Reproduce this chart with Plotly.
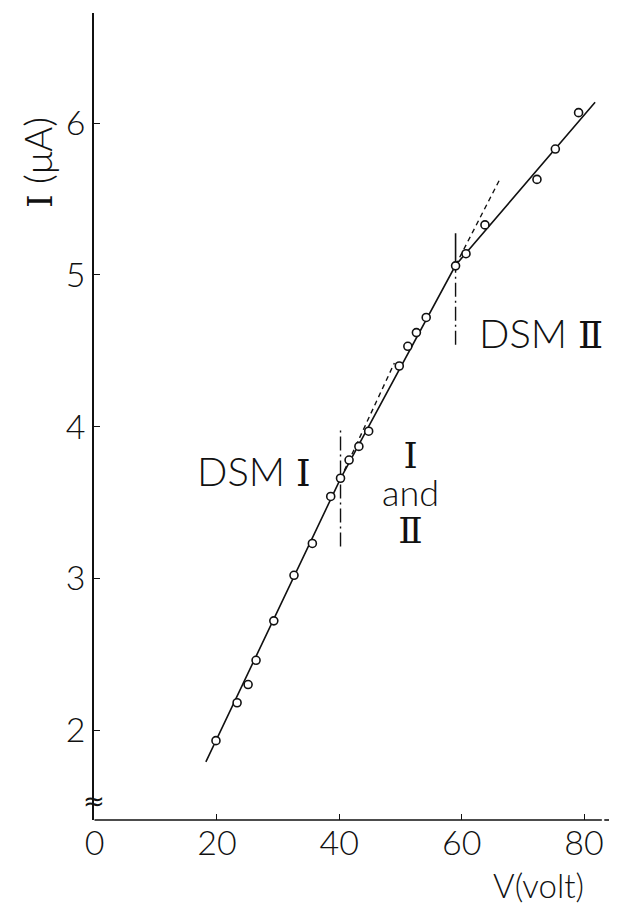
import plotly.graph_objects as go

# Measured points
V = [19.85, 23.3, 25.1, 26.4, 29.3, 32.6, 35.6, 38.6, 40.2, 41.6, 43.2, 44.8,
     49.8, 51.2, 52.6, 54.2, 59.0, 60.7, 63.8, 72.3, 75.3, 79.1]
I = [1.93, 2.18, 2.30, 2.46, 2.72, 3.02, 3.23, 3.54, 3.66, 3.78, 3.87, 3.97,
     4.40, 4.53, 4.62, 4.72, 5.06, 5.14, 5.33, 5.63, 5.83, 6.07]

# Fitted solid line (three straight segments)
fit_V = [18.2, 40.2, 59.0, 81.8]
fit_I = [1.79, 3.657, 5.064, 6.138]

# Dashed extrapolations
ext1_V = [40.2, 49.0]
ext1_I = [3.657, 4.42]
ext2_V = [59.0, 66.4]
ext2_I = [5.064, 5.644]

# Transition markers (vertical dash-dot lines)
trans1_V = [40.2, 40.2]
trans1_I = [3.21, 3.98]
trans2_low_V = [59.0, 59.0]
trans2_low_I = [4.54, 5.064]
trans2_up_V = [59.0, 59.0]
trans2_up_I = [5.064, 5.275]

x_ticks = [0, 20, 40, 60, 80]
y_ticks = [2, 3, 4, 5, 6]

FONT = "Lato, 'Noto Sans', 'DejaVu Sans', sans-serif"
ROMAN = "font-family:DejaVu Serif"
BLACK = "#111111"

fig = go.Figure()

fig.add_trace(go.Scatter(x=fit_V, y=fit_I, mode="lines",
                         line=dict(color=BLACK, width=1.6), hoverinfo="skip"))
fig.add_trace(go.Scatter(x=ext1_V, y=ext1_I, mode="lines",
                         line=dict(color=BLACK, width=1.4, dash="5px,4px"), hoverinfo="skip"))
fig.add_trace(go.Scatter(x=ext2_V, y=ext2_I, mode="lines",
                         line=dict(color=BLACK, width=1.4, dash="5px,4px"), hoverinfo="skip"))
fig.add_trace(go.Scatter(x=trans1_V, y=trans1_I, mode="lines",
                         line=dict(color=BLACK, width=1.4, dash="14px,4px,2px,4px"), hoverinfo="skip"))
fig.add_trace(go.Scatter(x=trans2_low_V, y=trans2_low_I, mode="lines",
                         line=dict(color=BLACK, width=1.4, dash="14px,4px,2px,4px"), hoverinfo="skip"))
fig.add_trace(go.Scatter(x=trans2_up_V, y=trans2_up_I, mode="lines",
                         line=dict(color=BLACK, width=1.6), hoverinfo="skip"))
fig.add_trace(go.Scatter(x=V, y=I, mode="markers",
                         marker=dict(symbol="circle", size=8, color="white",
                                     line=dict(color=BLACK, width=1.6))))

# x axis line drawn as shapes: solid, then short dashed tail
fig.add_shape(type="line", xref="x", yref="paper", x0=0, x1=82.9, y0=0, y1=0,
              line=dict(color=BLACK, width=1.6))
fig.add_shape(type="line", xref="x", yref="paper", x0=83.3, x1=84.5, y0=0, y1=0,
              line=dict(color=BLACK, width=1.6))

tf = dict(family=FONT, color=BLACK, weight=300)
ann = []
ann.append(dict(x=26.1, y=3.71, xref="x", yref="y", xanchor="center", yanchor="middle",
                text=f"DSM <span style='{ROMAN};font-size:37px'>Ⅰ</span>", showarrow=False,
                font=dict(size=40, **tf)))
ann.append(dict(x=73.0, y=4.62, xref="x", yref="y", xanchor="center", yanchor="middle",
                text=f"DSM <span style='{ROMAN};font-size:37px'>Ⅱ</span>", showarrow=False,
                font=dict(size=40, **tf)))
ann.append(dict(x=51.7, y=3.56, xref="x", yref="y", xanchor="center", yanchor="middle",
                text=(f"<span style='{ROMAN};font-size:36px'>Ⅰ</span><br>"
                      f"<span style='font-size:36px'>and</span><br>"
                      f"<span style='{ROMAN};font-size:36px'>Ⅱ</span>"),
                showarrow=False, font=dict(size=29, **tf)))
ann.append(dict(x=-0.1106, y=5.745, xref="paper", yref="y", xanchor="center", yanchor="middle",
                text=f"<span style='{ROMAN};font-size:34px'>I</span> (μA)", showarrow=False,
                textangle=-90, font=dict(size=38, **tf)))
ann.append(dict(x=72.6, y=-0.0805, xref="x", yref="paper", xanchor="center", yanchor="middle",
                text="V(volt)", showarrow=False, font=dict(size=33, **tf)))
ann.append(dict(x=0, y=1.53, xref="x", yref="y", xanchor="center", yanchor="middle",
                text="≈", showarrow=False,
                font=dict(size=26, family="DejaVu Sans", color=BLACK)))
fig.update_layout(annotations=ann)

fig.update_layout(
    width=617, height=907,
    margin=dict(l=86, r=13, t=5, b=95),
    paper_bgcolor="white", plot_bgcolor="white",
    showlegend=False,
    xaxis=dict(range=[-0.08, 84.56], tickvals=x_ticks, ticktext=[str(t) for t in x_ticks],
               ticks="inside", ticklen=6, tickwidth=1.4, tickcolor=BLACK,
               showgrid=False, zeroline=False, showline=False,
               tickfont=dict(size=34, **tf)),
    yaxis=dict(range=[1.407, 6.727], tickvals=y_ticks, ticktext=[str(t) for t in y_ticks],
               ticks="inside", ticklen=6, tickwidth=1.4, tickcolor=BLACK,
               showgrid=False, zeroline=False, showline=True, linecolor=BLACK, linewidth=1.6,
               tickfont=dict(size=34, **tf)),
)

fig.write_html("out.html")
